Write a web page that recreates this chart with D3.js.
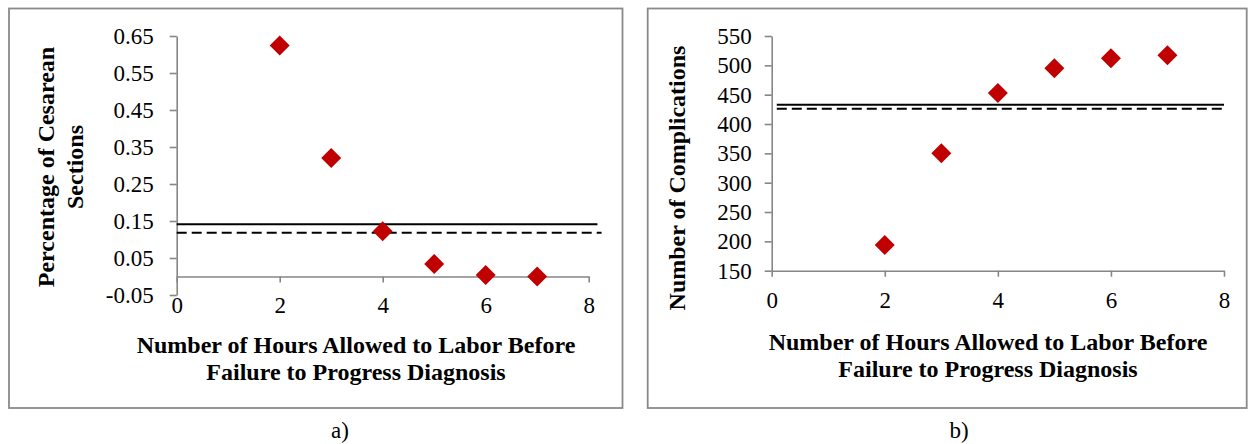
<!DOCTYPE html>
<html>
<head>
<meta charset="utf-8">
<script src="https://cdn.jsdelivr.net/npm/d3@7"></script>
<style>
  body { margin: 0; background: #fff; }
  svg { display: block; }
</style>
</head>
<body>
<div id="chart"></div>
<script>
// Data
const hours = [2, 3, 4, 5, 6, 7];
const cesareanPct = [0.624, 0.32, 0.122, 0.034, 0.004, 0.0];
const complications = [194, 350, 453, 495, 512, 517];

const xTicks = [0, 2, 4, 6, 8];
const pctTicks = [-0.05, 0.05, 0.15, 0.25, 0.35, 0.45, 0.55, 0.65];
const compTicks = [150, 200, 250, 300, 350, 400, 450, 500, 550];

// reference lines: [value, xStart, xEnd]
const pctSolid = [0.141, 0, 8.17];
const pctDashed = [0.118, 0, 8.25];
const compSolid = [433, 0.09, 8];
const compDashed = [426, 0.09, 8];

const W = 1255, H = 444;
const axisColor = "#868686";
const markColor = "#c00000";
const serif = "'Liberation Serif', 'Times New Roman', serif";

// plain hyphen for negatives, like the original
const pctFormat = d => d3.format(".2f")(d).replace("\u2212", "-");

const svg = d3.select("#chart").append("svg")
  .attr("width", W)
  .attr("height", H);

function renderPanel(opts) {
  const g = svg.append("g");

  // panel frame
  g.append("rect")
    .attr("x", opts.box[0])
    .attr("y", opts.box[1])
    .attr("width", opts.box[2])
    .attr("height", opts.box[3])
    .attr("fill", "none")
    .attr("stroke", "#8a8a8a")
    .attr("stroke-width", 1.8);

  const x = d3.scaleLinear().domain([0, 8]).range(opts.xRange);
  const y = d3.scaleLinear().domain(opts.yDomain).range(opts.yRange);

  // y axis
  const yAxis = g.append("g")
    .attr("transform", `translate(${opts.xRange[0]},0)`)
    .call(d3.axisLeft(y)
      .tickValues(opts.yTicks)
      .tickSize(7)
      .tickSizeOuter(0)
      .tickPadding(opts.yPad)
      .tickFormat(opts.yFormat));

  // x axis sits on y = xAxisAt
  const xAxis = g.append("g")
    .attr("transform", `translate(0,${y(opts.xAxisAt)})`)
    .call(d3.axisBottom(x)
      .tickValues(xTicks)
      .tickSize(6)
      .tickSizeOuter(0)
      .tickPadding(opts.xPad)
      .tickFormat(d3.format("d")));

  [yAxis, xAxis].forEach(a => {
    a.selectAll("path, line")
      .attr("stroke", axisColor)
      .attr("stroke-width", 1.6);
    a.selectAll("text")
      .attr("fill", "#000")
      .style("font-family", serif)
      .style("font-size", "23px");
  });

  // reference lines
  [[opts.solid, null], [opts.dashed, "10,5"]].forEach(([ln, dash]) => {
    g.append("line")
      .attr("x1", x(ln[1]))
      .attr("x2", x(ln[2]))
      .attr("y1", y(ln[0]))
      .attr("y2", y(ln[0]))
      .attr("stroke", "#000")
      .attr("stroke-width", 2)
      .attr("stroke-dasharray", dash);
  });

  // diamond markers
  const diamond = d3.symbol().type(d3.symbolSquare).size(200);
  g.selectAll("path.pt")
    .data(hours.map((h, i) => ({ h, v: opts.values[i] })))
    .enter()
    .append("path")
    .attr("class", "pt")
    .attr("d", diamond)
    .attr("transform", d => `translate(${x(d.h)},${y(d.v)}) rotate(45)`)
    .attr("fill", markColor);

  // y axis title
  const yt = g.append("text")
    .attr("transform", `translate(${opts.yTitlePos[0]},${opts.yTitlePos[1]}) rotate(-90)`)
    .attr("text-anchor", "middle")
    .style("font-family", serif)
    .style("font-size", "24px")
    .style("font-weight", "bold");
  opts.yTitle.forEach((t, i) => {
    yt.append("tspan")
      .attr("x", 0)
      .attr("y", (i - (opts.yTitle.length - 1) / 2) * 29 + 8)
      .text(t);
  });

  // x axis title
  const xt = g.append("text")
    .attr("text-anchor", "middle")
    .style("font-family", serif)
    .style("font-size", "24px")
    .style("font-weight", "bold");
  ["Number of Hours Allowed to Labor Before", "Failure to Progress Diagnosis"].forEach((t, i) => {
    xt.append("tspan")
      .attr("x", opts.xTitlePos[0])
      .attr("y", opts.xTitlePos[1] + i * 27)
      .text(t);
  });

  // panel label
  g.append("text")
    .attr("x", opts.labelPos[0])
    .attr("y", opts.labelPos[1])
    .attr("text-anchor", "middle")
    .style("font-family", serif)
    .style("font-size", "23px")
    .text(opts.label);
}

renderPanel({
  box: [9, 8.5, 613.5, 399.5],
  xRange: [176.7, 588.7],
  yDomain: [-0.05, 0.65],
  yRange: [295, 36],
  yTicks: pctTicks,
  yFormat: pctFormat,
  yPad: 16,
  xPad: 14,
  xAxisAt: 0,
  values: cesareanPct,
  solid: pctSolid,
  dashed: pctDashed,
  yTitle: ["Percentage of Cesarean", "Sections"],
  yTitlePos: [60, 167],
  xTitlePos: [356, 353],
  label: "a)",
  labelPos: [340, 438]
});

renderPanel({
  box: [647.7, 8.5, 599, 399.5],
  xRange: [771.7, 1224],
  yDomain: [150, 550],
  yRange: [270.7, 36],
  yTicks: compTicks,
  yFormat: d3.format("d"),
  yPad: 13,
  xPad: 15,
  xAxisAt: 150,
  values: complications,
  solid: compSolid,
  dashed: compDashed,
  yTitle: ["Number of Complications"],
  yTitlePos: [677, 178],
  xTitlePos: [988, 350],
  label: "b)",
  labelPos: [959, 438]
});
</script>
</body>
</html>
